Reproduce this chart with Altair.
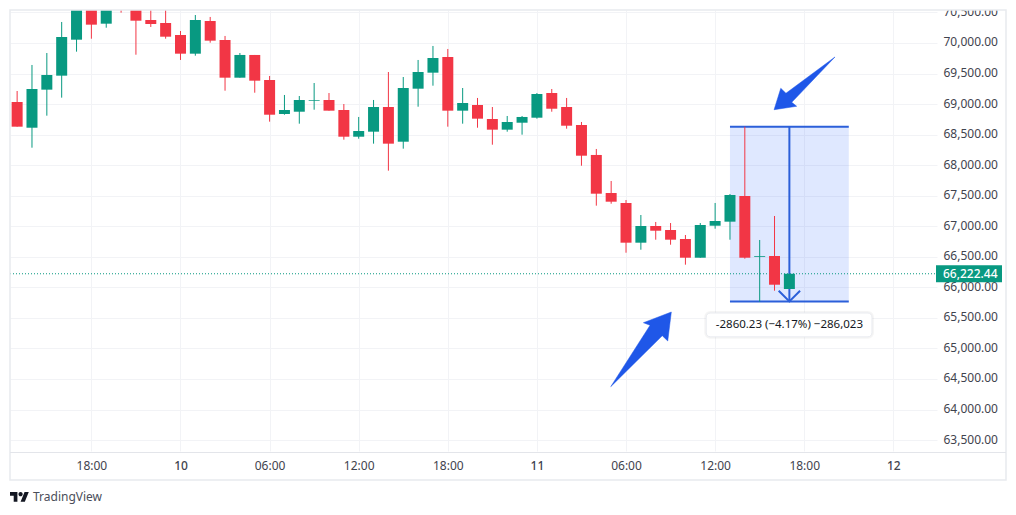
import altair as alt
import pandas as pd

FONT = "Noto Sans"
UP, DOWN = "#089981", "#f23645"
BLUE, ARROW = "#2b5fd9", "#1f57e8"

hours = list(range(-5, 48))
opens = [69034,68613,69236,69465,70054,70655,70316,70750,70622,70376,70327,70131,69825,70360,70049,69432,69804,69394,68838,68875,69055,69067,68903,68466,68548,68952,68384,69252,69514,69771,68892,68985,68756,68581,68695,68777,69181,68952,68658,68167,67544,67381,66731,67004,66939,66791,66485,67009,67075,67495,66500,66513,65973]
highs = [69214,69640,69836,70344,70786,70800,70800,70850,70750,70640,70550,70196,70458,70426,70115,69836,69804,69460,69149,69132,69345,69181,69001,68789,69067,69525,69443,69722,69951,69902,69263,69100,68952,68805,68805,69181,69247,69100,68707,68265,67741,67430,67184,67070,67053,66857,67053,67381,67528,68630,66775,67168,66222]
lows = [68630,68286,68810,69105,69858,70070,70250,70496,69808,70262,70070,69722,69792,70005,69219,69432,69186,68712,68826,68679,68908,68892,68417,68433,68352,67910,68270,68957,69301,68630,68679,68613,68335,68548,68499,68761,68875,68597,67991,67337,67369,66567,66616,66780,66698,66371,66485,66960,66780,66469,65765,65945,65973]
closes = [68630,69247,69476,70098,70638,70300,70671,70600,70365,70311,70103,69825,70376,70038,69432,69804,69383,68826,68903,69067,69067,68892,68466,68559,68952,68352,69263,69525,69754,68892,69018,68761,68581,68707,68789,69165,68924,68646,68155,67533,67402,66731,67004,66927,66780,66485,67021,67086,67512,66485,66513,66043,66222]

x_ticks = [0, 6, 12, 18, 24, 30, 36, 42, 48, 54]
x_labels = ["18:00", "10", "06:00", "12:00", "18:00", "11", "06:00", "12:00", "18:00", "12"]
y_ticks = list(range(63500, 71000, 500))

last_price = 66222.44
m_start, m_end, m_mid = 43, 51, 47
m_top, m_bottom = 68630, 65770
head_h = [46.28, 47, 47.72]
head_p = [65945, 65770, 65945]

up_arrow_h = [50.07, 47.16, 47.49, 45.97, 46.42, 46.77, 50.07]
up_arrow_p = [69771, 69029, 68964, 68908, 69258, 69177, 69771]
low_arrow_h = [34.97, 37.62, 37.17, 39.05, 38.81, 38.44, 34.97]
low_arrow_p = [64374, 65379, 65421, 65596, 65122, 65209, 64374]

tip_h = [41.4, 52.56]
tip_p = [65580, 65190]
tip_text = "-2860.23 (−4.17%) −286,023"

df = pd.DataFrame({"h": hours, "o": opens, "hi": highs, "lo": lows, "c": closes})
df["top"] = df[["o", "c"]].max(axis=1)
df["bot"] = df[["o", "c"]].min(axis=1)
df["dir"] = ["up" if c >= o else "down" for o, c in zip(opens, closes)]

xs = alt.Scale(domain=[-5.48, 56.94], nice=False, zero=False, padding=0)
ys = alt.Scale(domain=[63321, 70540], nice=False, zero=False, padding=0)
cs = alt.Scale(domain=["up", "down"], range=[UP, DOWN])

label_map = "{" + ",".join(f"'{v}':'{t}'" for v, t in zip(x_ticks, x_labels)) + "}"
x_axis = alt.Axis(
    values=x_ticks, title=None, labelExpr=f"{label_map}[datum.value]", grid=True,
    gridColor="#f2f3f6", ticks=False, domain=False, labelFont=FONT, labelFontSize=12,
    labelColor="#3f434e", labelPadding=9, labelOverlap=False, labelFlush=False,
    labelFontWeight={"condition": {"test": "datum.value % 24 == 6", "value": 500}, "value": 400},
)
y_axis = alt.Axis(
    values=y_ticks, title=None, orient="right", format=",.2f", grid=True, gridColor="#f2f3f6",
    ticks=False, domain=False, labelFont=FONT, labelFontSize=12, labelColor="#3f434e",
    labelPadding=6, labelOffset=-1, labelOverlap=False, labelFlush=False,
)

X = lambda f="h": alt.X(f"{f}:Q", scale=xs, axis=x_axis)
Y = lambda f: alt.Y(f"{f}:Q", scale=ys, axis=y_axis)

measure_rect = alt.Chart(pd.DataFrame({"a": [m_start], "b": [m_end], "t": [m_top], "u": [m_bottom]})).mark_rect(
    color="#2962ff", opacity=0.15
).encode(x=X("a"), x2="b:Q", y=Y("t"), y2="u:Q")

hlines = alt.Chart(pd.DataFrame({"a": [m_start, m_start], "b": [m_end, m_end], "p": [m_top, m_bottom]})).mark_rule(
    color=BLUE, strokeWidth=2
).encode(x=X("a"), x2="b:Q", y=Y("p"))

vline = alt.Chart(pd.DataFrame({"a": [m_mid], "t": [m_top], "u": [m_bottom]})).mark_rule(
    color=BLUE, strokeWidth=2
).encode(x=X("a"), y=Y("t"), y2="u:Q")

head = alt.Chart(pd.DataFrame({"h": head_h, "p": head_p, "i": [0, 1, 2]})).mark_line(
    color=BLUE, strokeWidth=2
).encode(x=X(), y=Y("p"), order="i:Q")

price_line = alt.Chart(pd.DataFrame({"p": [last_price]})).mark_rule(
    color=UP, strokeWidth=1, strokeDash=[1, 2]
).encode(y=Y("p"), x=alt.value(0), x2=alt.value(927))

wicks = alt.Chart(df).mark_rule(strokeWidth=1, clip=True).encode(
    x=X(), y=Y("hi"), y2="lo:Q", color=alt.Color("dir:N", scale=cs, legend=None)
)
bodies = alt.Chart(df).mark_bar(size=11, clip=True).encode(
    x=X(), y=Y("top"), y2="bot:Q", color=alt.Color("dir:N", scale=cs, legend=None)
)


def polygon(hs, ps):
    d = pd.DataFrame({"h": hs, "p": ps, "i": list(range(len(hs)))})
    return alt.Chart(d).mark_line(fill=ARROW, stroke=ARROW, strokeWidth=0.5).encode(
        x=X(), y=Y("p"), order="i:Q"
    )


tip_df = pd.DataFrame({"a": [tip_h[0]], "b": [tip_h[1]], "t": [tip_p[0]], "u": [tip_p[1]]})


def tip_rect(**style):
    return alt.Chart(tip_df).mark_rect(cornerRadius=4, **style).encode(
        x=X("a"), x2="b:Q", y=Y("t"), y2="u:Q"
    )


tip_shadow = tip_rect(fill="#ffffff", stroke="#000000", strokeOpacity=0.04, strokeWidth=4)
tip_box = tip_rect(fill="#ffffff", stroke="#e9ebf0", strokeWidth=1)
tip_label = alt.Chart(pd.DataFrame({"h": [m_mid], "p": [sum(tip_p) / 2], "s": [tip_text]})).mark_text(
    font=FONT, fontSize=11.5, color="#131722"
).encode(x=X(), y=Y("p"), text="s:N")

price_box = alt.Chart(pd.DataFrame({"t": [last_price + 139], "u": [last_price - 139]})).mark_rect(
    color=UP
).encode(x=alt.value(926), x2=alt.value(992), y=Y("t"), y2="u:Q")
price_label = alt.Chart(pd.DataFrame({"p": [last_price], "s": [f"{last_price:,.2f}"]})).mark_text(
    font=FONT, fontSize=12, fontWeight=500, color="#ffffff", align="left"
).encode(x=alt.value(933), y=Y("p"), text="s:N")

top_mask = alt.Chart(pd.DataFrame({"a": [0]})).mark_rect(color="#ffffff").encode(
    x=alt.value(-2), x2=alt.value(998), y=alt.value(-2), y2=alt.value(0)
)
frame = alt.Chart(pd.DataFrame({"a": [0]})).mark_rect(
    fill="transparent", stroke="#e8eaee", strokeWidth=1.5
).encode(x=alt.value(0), x2=alt.value(996), y=alt.value(0), y2=alt.value(470))
axis_line = alt.Chart(pd.DataFrame({"a": [0]})).mark_rule(color="#e3e5ea", strokeWidth=1).encode(
    x=alt.value(0), x2=alt.value(996), y=alt.value(442.5)
)

logo = alt.Chart(pd.DataFrame({"a": [0]})).mark_point(
    shape="M14 22H7V11H0V4h14v18zM28 22h-8l7.5-18h8L28 22zM16 8a4 4 0 1 0 8 0a4 4 0 1 0 -8 0z",
    filled=True, size=1.12, color="#131722", opacity=1,
).encode(x=alt.value(0), y=alt.value(480))
brand = alt.Chart(pd.DataFrame({"s": ["TradingView"]})).mark_text(
    font=FONT, fontSize=12, color="#4a4e59", align="left"
).encode(x=alt.value(23), y=alt.value(487), text="s:N")

chart = alt.layer(
    measure_rect, price_line, hlines, vline, head, wicks, bodies,
    polygon(up_arrow_h, up_arrow_p), polygon(low_arrow_h, low_arrow_p),
    tip_shadow, tip_box, tip_label, price_box, price_label, top_mask, frame, axis_line, logo, brand,
).properties(
    width=927, height=441, background="#ffffff",
    autosize=alt.AutoSizeParams(type="none"),
    padding={"left": 2, "top": 2, "right": 71, "bottom": 54},
).configure_view(stroke=None)

chart.save("out.html", embed_options={"renderer": "svg", "actions": False})
